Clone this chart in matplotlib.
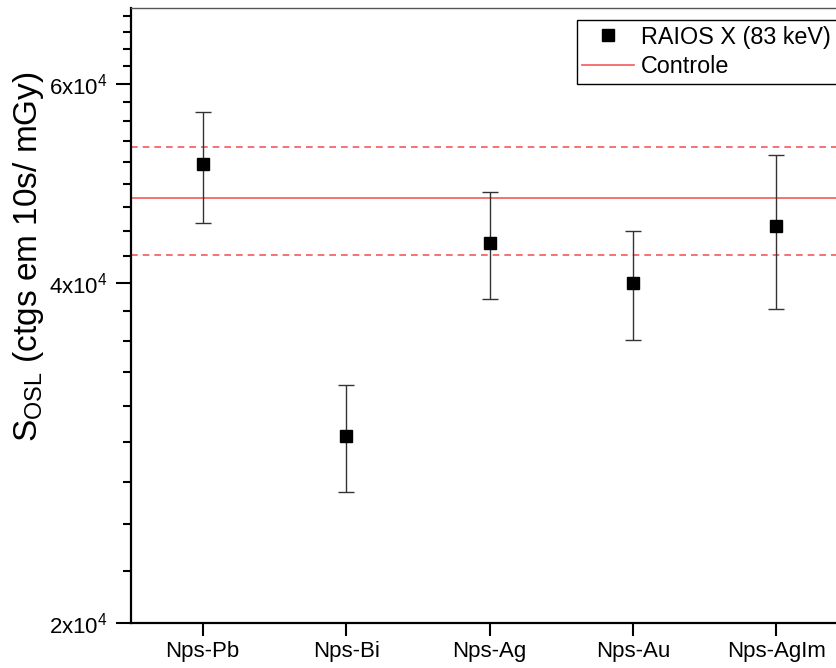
import matplotlib
matplotlib.use("Agg")
import matplotlib.pyplot as plt
from matplotlib.lines import Line2D
from matplotlib.ticker import FixedLocator, MultipleLocator, FuncFormatter, NullFormatter
import numpy as np

plt.rcParams['font.family'] = ['Liberation Sans', 'DejaVu Sans']
plt.rcParams['mathtext.fontset'] = 'custom'
plt.rcParams['mathtext.rm'] = 'Liberation Sans'
plt.rcParams['mathtext.it'] = 'Liberation Sans:italic'

# Datos
amostras = ['Nps-Pb', 'Nps-Bi', 'Nps-Ag', 'Nps-Au', 'Nps-AgIm']
sinal = [5.09e4, 2.93e4, 4.34e4, 4.00e4, 4.49e4]
erro = [0.57e4, 0.32e4, 0.47e4, 0.44e4, 0.70e4]
controle = 4.75e4
controle_erro = 0.52e4

x = np.arange(1, len(amostras) + 1)

fig = plt.figure(figsize=(8.36, 6.68), dpi=100)
# eje que se sale un poco por la derecha, como en la figura original
ax = fig.add_axes([131 / 836, 45 / 668, 717 / 836, 615 / 668])

ax.errorbar(x, sinal, yerr=erro, fmt='s', color='black', markersize=9,
            ecolor='#333333', elinewidth=1.0, capsize=6, capthick=1.0, zorder=3)

vermelho = '#f25a5a'
ax.axhline(controle, color=vermelho, lw=1.2, zorder=2)
ax.axhline(controle + controle_erro, color=vermelho, lw=1.2, ls=(0, (4, 3)), zorder=2)
ax.axhline(controle - controle_erro, color=vermelho, lw=1.2, ls=(0, (4, 3)), zorder=2)

ax.set_yscale('log')
ax.set_ylim(2e4, 7e4)
ax.set_xlim(0.5, 5.5)

ax.yaxis.set_major_locator(FixedLocator([2e4, 4e4, 6e4]))
ax.yaxis.set_minor_locator(MultipleLocator(2e4 / 9))
ax.yaxis.set_minor_formatter(NullFormatter())


def fmt_y(v, pos):
    return r'%dx10$^{4}$' % round(v / 1e4)


ax.yaxis.set_major_formatter(FuncFormatter(fmt_y))

ax.set_xticks(x)
ax.set_xticklabels(amostras)

ax.tick_params(axis='both', which='major', direction='out', length=11, width=1.5,
               labelsize=16, pad=6)
ax.tick_params(axis='y', which='minor', direction='out', length=6, width=1.5)
ax.tick_params(axis='x', which='major', length=9, pad=4)

for lado in ['left', 'bottom']:
    ax.spines[lado].set_linewidth(1.6)
ax.spines['top'].set_linewidth(1.0)
ax.spines['top'].set_color('#555555')
ax.spines['right'].set_visible(False)

ax.set_ylabel(r'S$_{\mathrm{OSL}}$ (ctgs em 10s/ mGy)', fontsize=24)
ax.yaxis.set_label_coords(-0.118, 0.595)

# Leyenda con marcadores sin barras de error
h_raios = Line2D([], [], ls='none', marker='s', color='black', markersize=9)
h_ctrl = Line2D([], [], color=vermelho, lw=1.2)
leg = ax.legend([h_raios, h_ctrl], ['RAIOS X (83 keV)', 'Controle'],
                loc='upper right', bbox_to_anchor=(0.984, 0.981), fontsize=16.8,
                frameon=True, fancybox=False, edgecolor='black', framealpha=1,
                borderpad=0.25, handlelength=2.2, handletextpad=0.3,
                labelspacing=0.28, borderaxespad=0)
leg.get_frame().set_linewidth(1.0)

fig.savefig('out.png', dpi=100)
